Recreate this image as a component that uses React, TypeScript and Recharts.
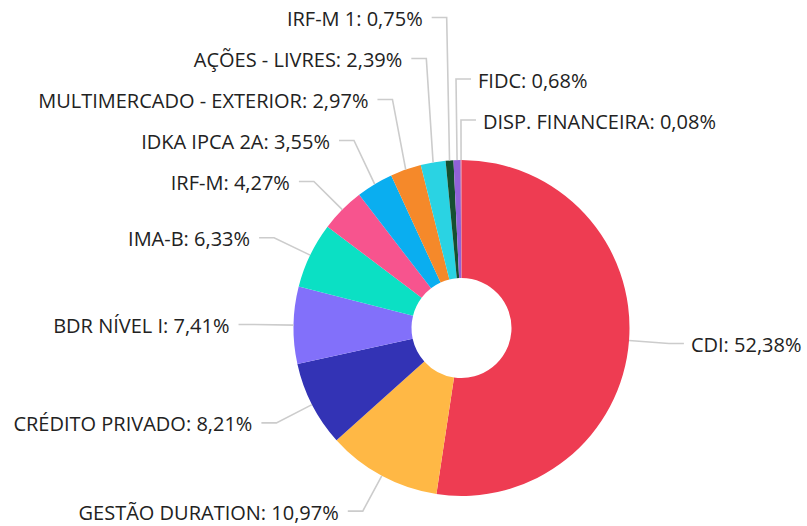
import { Cell, Pie, PieChart } from 'recharts'

const names = [
  'CDI',
  'GESTÃO DURATION',
  'CRÉDITO PRIVADO',
  'BDR NÍVEL I',
  'IMA-B',
  'IRF-M',
  'IDKA IPCA 2A',
  'MULTIMERCADO - EXTERIOR',
  'AÇÕES - LIVRES',
  'IRF-M 1',
  'FIDC',
  'DISP. FINANCEIRA',
]

const values = [52.38, 10.97, 8.21, 7.41, 6.33, 4.27, 3.55, 2.97, 2.39, 0.75, 0.68, 0.08]

const colors = [
  '#ee3c52',
  '#ffb845',
  '#3333b5',
  '#8270fa',
  '#0be0c4',
  '#f7548e',
  '#0aaef0',
  '#f5892a',
  '#2ad3e3',
  '#164f30',
  '#9062d8',
  '#e0607e',
]

const W = 807
const H = 526
const CX = 461.5
const CY = 328
const R = 168
const R_IN = 50
const LEN = 40
const LEN2 = 15
const GAP = 41

const data = names.map((name, i) => ({ name, value: values[i] }))

interface LabelPos {
  sx: number
  sy: number
  ex: number
  y: number
  right: boolean
}

// leader lines: radial part, then a short horizontal part; labels pushed apart on each side
function layoutLabels(): LabelPos[] {
  const total = values.reduce((a, b) => a + b, 0)
  let cum = 0
  const pos: LabelPos[] = values.map((v) => {
    const a = (((cum + v / 2) / total) * 360 * Math.PI) / 180
    cum += v
    const s = Math.sin(a)
    const c = Math.cos(a)
    return {
      sx: CX + R * s,
      sy: CY - R * c,
      ex: CX + (R + LEN) * s,
      y: CY - (R + LEN) * c,
      right: s > -0.03,
    }
  })
  for (const right of [true, false]) {
    const idx = pos
      .map((_, i) => i)
      .filter((i) => pos[i].right === right)
      .sort((a, b) => Math.round(pos[a].y) - Math.round(pos[b].y) || a - b)
    for (let j = idx.length - 2; j >= 0; j--) {
      pos[idx[j]].y = Math.min(pos[idx[j]].y, pos[idx[j + 1]].y - GAP)
    }
  }
  return pos
}

const labelPos = layoutLabels()

function fmt(v: number): string {
  return v.toFixed(2).replace('.', ',') + '%'
}

function renderLabel(props: any) {
  const i = props.index as number
  const p = labelPos[i]
  const hx = p.right ? p.ex + LEN2 : p.ex - LEN2
  const tx = p.right ? hx + 7 : hx - 9
  return (
    <g key={`lbl-${i}`}>
      <polyline
        points={`${p.sx},${p.sy} ${p.ex},${p.y} ${hx},${p.y}`}
        fill="none"
        stroke="#cccccc"
        strokeWidth={1.6}
      />
      <text
        x={tx}
        y={p.y + 1}
        textAnchor={p.right ? 'start' : 'end'}
        dominantBaseline="central"
        fill="#222"
        fontSize={20}
        fontFamily="'Open Sans', sans-serif"
      >
        {`${names[i]}: ${fmt(values[i])}`}
      </text>
    </g>
  )
}

export default function App() {
  return (
    <div style={{ width: W, height: H, background: '#fff' }}>
      <style>{'body{margin:0}'}</style>
      <PieChart width={W} height={H} margin={{ top: 0, right: 0, bottom: 0, left: 0 }}>
        <Pie
          data={data}
          dataKey="value"
          nameKey="name"
          cx={CX}
          cy={CY}
          innerRadius={R_IN}
          outerRadius={R}
          startAngle={90}
          endAngle={-270}
          stroke="none"
          label={renderLabel}
          labelLine={false}
          isAnimationActive={false}
        >
          {data.map((d, i) => (
            <Cell key={d.name} fill={colors[i]} />
          ))}
        </Pie>
      </PieChart>
    </div>
  )
}
